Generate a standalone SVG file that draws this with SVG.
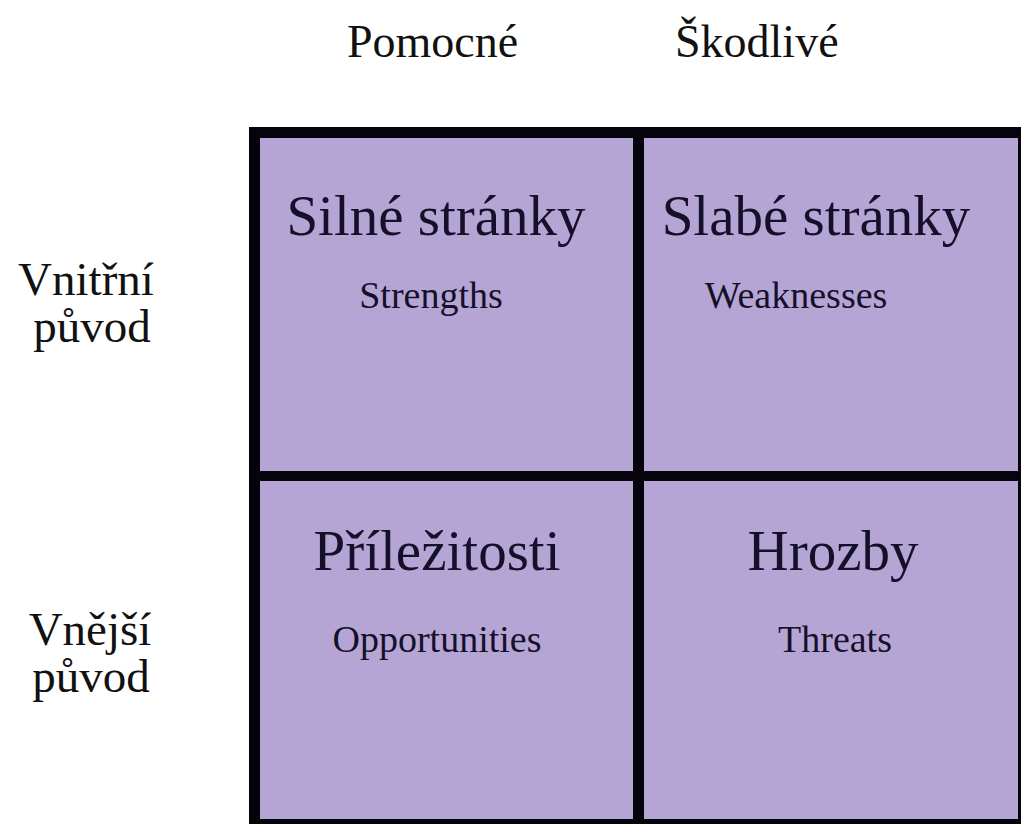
<svg xmlns="http://www.w3.org/2000/svg" width="1021" height="824" viewBox="0 0 1021 824">
<style>
  text { font-family: "Liberation Serif", "Times New Roman", serif; }
  .hdr { font-size: 46px; fill: #111; }
  .side { font-size: 47px; fill: #111; text-anchor: middle; }
  .title { font-size: 57px; fill: #15102a; text-anchor: middle; }
  .sub { font-size: 38px; fill: #15102a; text-anchor: middle; }
  .cell { fill: #b5a5d5; }
</style>
<rect width="1021" height="824" fill="#ffffff"/>
<g id="headers">
  <text class="hdr" x="347" y="57">Pomocné</text>
  <text class="hdr" x="675" y="57">Škodlivé</text>
</g>
<g id="side-labels">
  <text class="side" x="86" y="295">Vnitřní</text>
  <text class="side" x="92" y="342">původ</text>
  <text class="side" x="90" y="645">Vnější</text>
  <text class="side" x="91" y="692">původ</text>
</g>
<g id="grid">
  <rect x="249" y="127" width="772" height="697" fill="#05030c"/>
</g>
<g id="strengths">
  <rect class="cell" x="260" y="138" width="373" height="333"/>
  <text class="title" x="436" y="235">Silné stránky</text>
  <text class="sub" x="431" y="308">Strengths</text>
</g>
<g id="weaknesses">
  <rect class="cell" x="644" y="138" width="374" height="333"/>
  <text class="title" x="816" y="235">Slabé stránky</text>
  <text class="sub" x="796" y="308">Weaknesses</text>
</g>
<g id="opportunities">
  <rect class="cell" x="260" y="481" width="373" height="338"/>
  <text class="title" x="437" y="570">Příležitosti</text>
  <text class="sub" x="437" y="652">Opportunities</text>
</g>
<g id="threats">
  <rect class="cell" x="644" y="481" width="374" height="338"/>
  <text class="title" x="833" y="570">Hrozby</text>
  <text class="sub" x="835" y="652">Threats</text>
</g>
<g id="connectors"></g>
</svg>
